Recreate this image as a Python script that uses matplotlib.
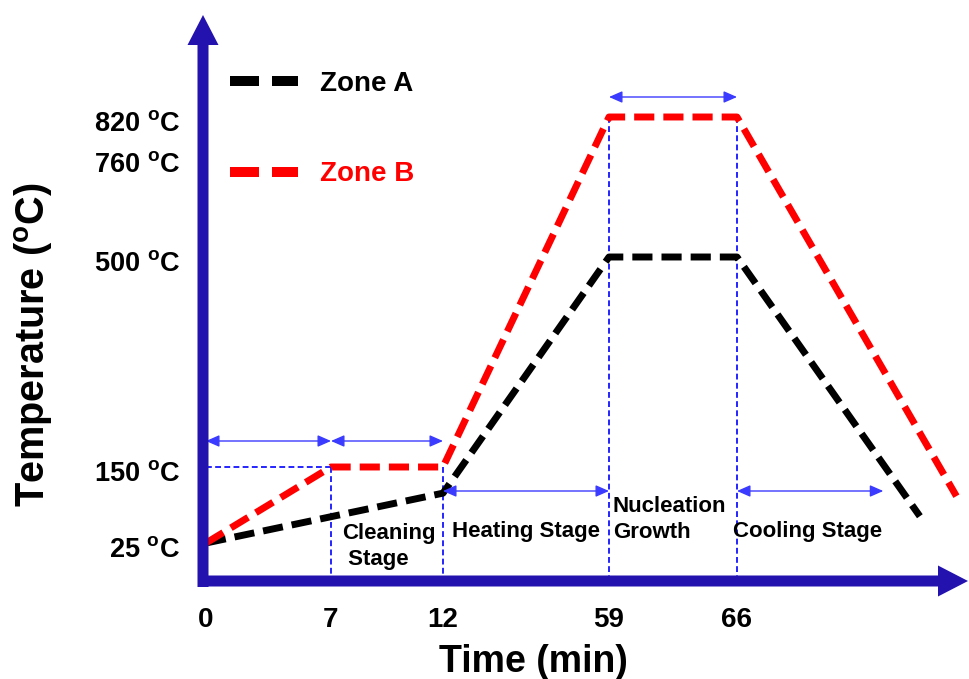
import numpy as np
import matplotlib
matplotlib.use("Agg")
import matplotlib.pyplot as plt
from matplotlib.patches import FancyArrowPatch, ArrowStyle
from matplotlib.transforms import ScaledTranslation

plt.rcParams['font.family'] = ['Liberation Sans', 'DejaVu Sans']
plt.rcParams['font.weight'] = 'bold'
plt.rcParams['mathtext.fontset'] = 'custom'
plt.rcParams['mathtext.rm'] = 'Liberation Sans:bold'
plt.rcParams['mathtext.it'] = 'Liberation Sans:bold'
plt.rcParams['mathtext.bf'] = 'Liberation Sans:bold'

# ---------------- data ----------------
zone_a_time = [0, 12, 59, 66, 76]
zone_a_temp = [25, 107, 500, 500, 69]
zone_b_time = [0, 7, 12, 59, 66, 78]
zone_b_temp = [25, 150, 150, 820, 820, 102]
time_ticks = [0, 7, 12, 59, 66]
time_tick_labels = ['0', '7', '12', '59', '66']
temp_ticks = [25, 150, 500, 760, 820]
temp_tick_labels = [r'25 $^{o}$C', r'150 $^{o}$C', r'500 $^{o}$C',
                    r'760 $^{o}$C', r'820 $^{o}$C']
guide_times = [7, 12, 59, 66]
stage_edges = [0, 7, 12, 59, 66, 74]
stage_names = ['Cleaning\n Stage', 'Heating Stage', 'Nucleation\nGrowth', 'Cooling Stage']

# ---------------- layout ----------------
W, H = 969, 679
AX_BLUE = '#2312ae'
GUIDE = '#0000ff'

# schematic (non-linear) axes: piecewise-linear scale anchors (value -> pixel)
X_T = [0, 7, 12, 59, 66]
X_P = [206, 331, 443, 609, 737]
Y_T = [25, 150, 500, 760, 820]
Y_P = [H - 543, H - 467, H - 257, H - 158, H - 117]


def piecewise(xp, fp):
    xp = np.asarray(xp, float)
    fp = np.asarray(fp, float)
    s0 = (fp[1] - fp[0]) / (xp[1] - xp[0])
    s1 = (fp[-1] - fp[-2]) / (xp[-1] - xp[-2])

    def f(v):
        v = np.asarray(v, float)
        out = np.interp(v, xp, fp)
        out = np.where(v < xp[0], fp[0] + (v - xp[0]) * s0, out)
        out = np.where(v > xp[-1], fp[-1] + (v - xp[-1]) * s1, out)
        return out
    return f


fx, fx_inv = piecewise(X_T, X_P), piecewise(X_P, X_T)
fy, fy_inv = piecewise(Y_T, Y_P), piecewise(Y_P, Y_T)

AX_L, AX_B = 203, 581   # pixel position of the axis lines (from top-left)

fig = plt.figure(figsize=(W / 100, H / 100), dpi=100)
ax = fig.add_axes([AX_L / W, (H - AX_B) / H, (W - AX_L) / W, AX_B / H])
ax.set_xscale('function', functions=(fx, fx_inv))
ax.set_yscale('function', functions=(fy, fy_inv))
ax.set_xlim(float(fx_inv(AX_L)), float(fx_inv(W)))
ax.set_ylim(float(fy_inv(H - AX_B)), float(fy_inv(H)))
for s in ax.spines.values():
    s.set_visible(False)
ax.patch.set_alpha(0)

ax.set_xticks(time_ticks)
ax.set_xticklabels(time_tick_labels)
ax.set_yticks(temp_ticks)
ax.set_yticklabels(temp_tick_labels)
ax.tick_params(axis='x', length=0, labelsize=20, pad=19)
ax.tick_params(axis='y', length=0, labelsize=19.5, pad=16.5)
ax.minorticks_off()
shift = ScaledTranslation(0, -4 / 100, fig.dpi_scale_trans)
for lbl in ax.get_yticklabels():
    lbl.set_transform(lbl.get_transform() + shift)

# guides
ylow = ax.get_ylim()[0]
guide_tops = np.interp(guide_times, zone_b_time, zone_b_temp)
for t, top in zip(guide_times, guide_tops):
    ax.plot([t, t], [top, ylow], color=GUIDE, lw=1.2, ls=(0, (3.5, 2)), zorder=1)
ax.plot([zone_b_time[0], zone_b_time[1]], [zone_b_temp[1], zone_b_temp[1]],
        color=GUIDE, lw=1.2, ls=(0, (3.5, 2)), zorder=1)

# profile lines
la, = ax.plot(zone_a_time, zone_a_temp, color='black', lw=5, dashes=(2.9, 1.3),
              label='Zone A', zorder=3)
lb, = ax.plot(zone_b_time, zone_b_temp, color='#ff0000', lw=5, dashes=(2.9, 1.3),
              label='Zone B', zorder=3)

leg = ax.legend(handles=[la, lb], loc='upper left', frameon=False,
                bbox_to_anchor=(230 / W, 1 - 71 / H), bbox_transform=fig.transFigure,
                borderpad=0, borderaxespad=0, fontsize=20, handlelength=2.45,
                handletextpad=0.8, labelspacing=2.32, labelcolor='linecolor')
for l in leg.get_lines():
    l.set_linewidth(7.2)

# stage arrows (heights in pixels from top)
for t0, t1, ytop in zip(stage_edges[:-1], stage_edges[1:], [441, 441, 491, 97, 491]):
    ax.annotate('', xy=(t1, H - ytop), xytext=(t0, H - ytop),
                xycoords=('data', 'figure pixels'), textcoords=('data', 'figure pixels'),
                arrowprops=dict(arrowstyle='<|-|>,head_length=0.5,head_width=0.22',
                                color='#3b3bff', lw=1.0, shrinkA=0, shrinkB=0,
                                mutation_scale=16))

# stage names
stage_pos = [(342, 523), (452, 521), (613, 496), (733, 521)]
for name, (px, py) in zip(stage_names, stage_pos):
    fig.text(px / W, 1 - py / H, name, fontsize=16, ha='left', va='top',
             linespacing=1.3)

# axis arrows
style = ArrowStyle.Simple(head_length=30, head_width=31, tail_width=11)
xarr = FancyArrowPatch((198 / W, 1 - AX_B / H), (968 / W, 1 - AX_B / H),
                       transform=fig.transFigure, arrowstyle=style,
                       mutation_scale=0.72, color=AX_BLUE, lw=0,
                       shrinkA=0, shrinkB=0, zorder=5)
yarr = FancyArrowPatch((AX_L / W, 1 - 587 / H), (AX_L / W, 1 - 15 / H),
                       transform=fig.transFigure, arrowstyle=style,
                       mutation_scale=0.72, color=AX_BLUE, lw=0,
                       shrinkA=0, shrinkB=0, zorder=5)
fig.add_artist(xarr)
fig.add_artist(yarr)

# axis titles
fig.text(533 / W, 1 - 644 / H, 'Time (min)', fontsize=27, ha='center', va='top')
fig.text(34 / W, 1 - 345 / H, r'Temperature ($^{o}$C)', fontsize=28.5,
         ha='center', va='center', rotation=90)

fig.savefig('out.png', dpi=100)
